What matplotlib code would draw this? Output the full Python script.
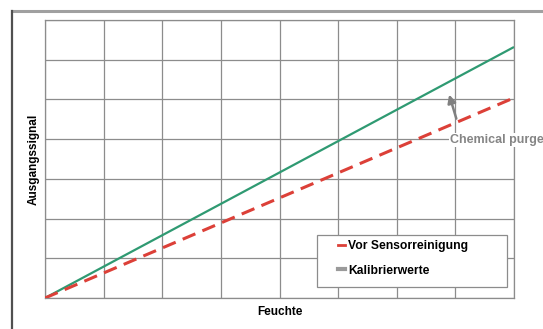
import matplotlib
matplotlib.use("Agg")
import matplotlib.pyplot as plt
from matplotlib.lines import Line2D
from matplotlib.patches import Rectangle

plt.rcParams['font.family'] = ['Liberation Sans', 'DejaVu Sans']

# data: humidity range vs output signal
feuchte = [0, 8]
kalibrierwerte = [0, 6.32]
vor_reinigung = [0, 5.04]
series_labels = ["Vor Sensorreinigung", "Kalibrierwerte"]

green = '#2f9a72'
red = '#dc4038'
grid_gray = '#8c8c8c'

fig = plt.figure(figsize=(5.43, 3.29), dpi=100)
ax = fig.add_axes([45 / 543, 1 - 298 / 329, 469 / 543, 278 / 329])

ax.plot(feuchte, kalibrierwerte, color=green, lw=1.6, solid_capstyle='butt', zorder=3)
ax.plot(feuchte, vor_reinigung, color=red, lw=2.2, dashes=(4.5, 2.5), zorder=3)

ax.set_xlim(0, 8)
ax.set_ylim(0, 7)
ax.set_xticks(range(0, 9))
ax.set_yticks(range(0, 8))
ax.tick_params(length=0, labelbottom=False, labelleft=False)
ax.grid(True, color=grid_gray, lw=0.9)
for s in ax.spines.values():
    s.set_color(grid_gray)
    s.set_linewidth(0.9)

ax.set_xlabel("Feuchte", fontsize=8.5, fontweight='bold', labelpad=6)
ax.set_ylabel("Ausgangssignal", fontsize=8.5, fontweight='bold', labelpad=4)

# chemical purge arrow + label
ax.annotate('', xy=(6.88, 5.19), xytext=(7.03, 4.45),
            arrowprops=dict(arrowstyle='-|>', color='#808080', lw=1.8, mutation_scale=12),
            zorder=4)
ax.text(6.91, 3.98, "Chemical purge", fontsize=9, fontweight='bold', color='#858585',
        ha='left', va='center', clip_on=False, zorder=5,
        bbox=dict(facecolor='white', edgecolor='none', pad=1.0))

# legend with separate frame
ax.add_patch(Rectangle((272 / 469, 11 / 278), 190 / 469, 52 / 278, transform=ax.transAxes,
                       facecolor='white', edgecolor='#8c8c8c', lw=0.9, zorder=5))
handles = [Line2D([], [], color=red, lw=2), Line2D([], [], color='#9a9a9a', lw=3)]
leg = ax.legend(handles, series_labels, loc='upper left', bbox_to_anchor=(293 / 469, 58 / 278),
                frameon=False, fontsize=8.7, handlelength=0.6, handletextpad=0.25,
                borderpad=0, borderaxespad=0, labelspacing=1.05)
leg.set_zorder(6)
for t in leg.get_texts():
    t.set_fontweight('bold')

# outer frame
fig.add_artist(Line2D([12 / 543, 1], [1 - 11 / 329, 1 - 11 / 329], color='#a0a0a0', lw=2.2))
fig.add_artist(Line2D([12 / 543, 12 / 543], [0, 1 - 11 / 329], color='#505050', lw=1.6))

fig.savefig("out.png", dpi=100)
